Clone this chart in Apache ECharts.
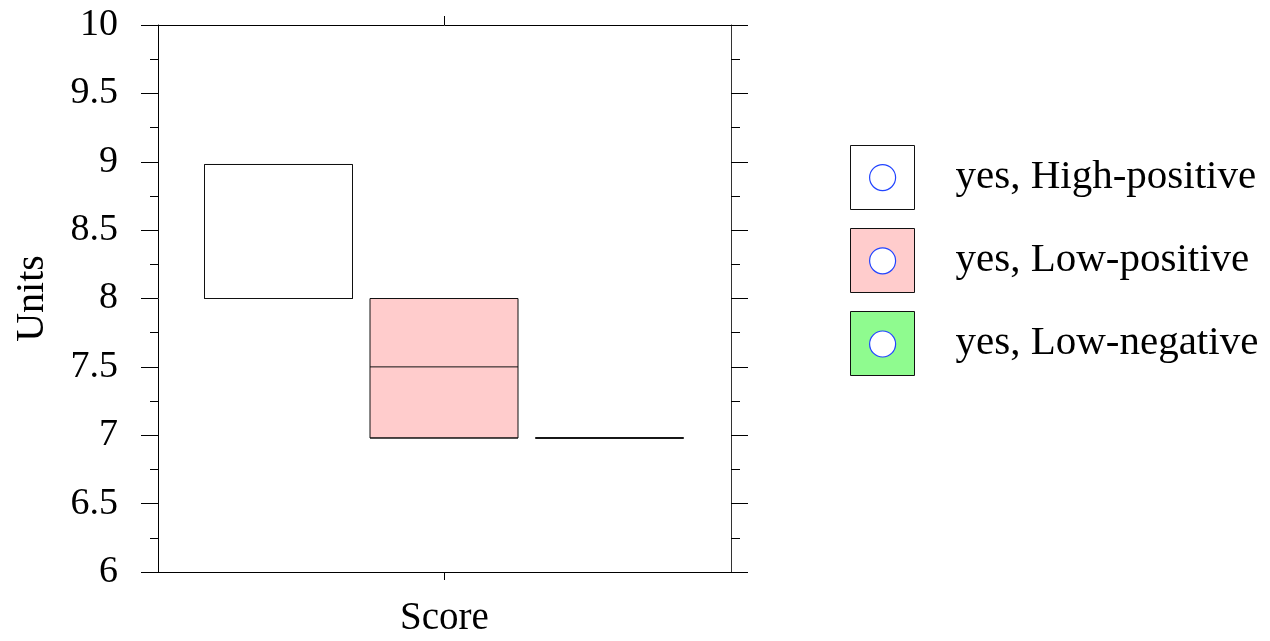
<!DOCTYPE html>
<html>
<head>
<meta charset="utf-8">
<script src="https://cdn.jsdelivr.net/npm/echarts@6/dist/echarts.min.js"></script>
<style>
  html, body { margin: 0; padding: 0; background: #fff; }
  #chart { width: 1270px; height: 641px; }
</style>
</head>
<body>
<div id="chart"></div>
<script>
// Axis categories and tick labels
const categories = ['Score'];
const yTicks = { min: 6, max: 10, step: 0.5 };

// Group names (legend entries)
const groupNames = ['yes, High-positive', 'yes, Low-positive', 'yes, Low-negative'];

// Box statistics per group: [min, Q1, median, Q3, max]
const highPositive = [8.0, 8.0, 8.0, 8.98, 8.98];
const lowPositive  = [6.98, 6.98, 7.5, 8.0, 8.0];
const lowNegative  = [6.98, 6.98, 6.98, 6.98, 6.98];

const groupValues = [highPositive, lowPositive, lowNegative];
const groupFill = ['#ffffff', '#ffcccc', '#8ffb8f'];

const FONT = '"Liberation Serif", "DejaVu Serif", serif';

// Frame of the plotting area
const plot = { left: 158, right: 731, top: 25, bottom: 572 };
// Boxes sit side by side in equal slots
const slotWidth = 165.5;
const slotStart = 195.75;

const grids = [{
  left: plot.left, top: plot.top,
  width: plot.right - plot.left, height: plot.bottom - plot.top,
  outerBoundsMode: 'none', containLabel: false
}];
groupNames.forEach((_, i) => {
  grids.push({
    left: slotStart + i * slotWidth, top: plot.top,
    width: slotWidth, height: plot.bottom - plot.top,
    outerBoundsMode: 'none', containLabel: false
  });
});

const xAxes = [
  {
    gridIndex: 0, type: 'category', data: categories, position: 'bottom',
    axisLine: { lineStyle: { color: '#000', width: 1 } },
    axisTick: { show: true, interval: 0, alignWithLabel: true, length: 8, lineStyle: { color: '#000' } },
    axisLabel: { show: true, interval: 0, color: 'rgba(0,0,0,0)', fontSize: 1 },
    name: categories[0], nameLocation: 'middle', nameGap: 27,
    nameTextStyle: { fontFamily: FONT, fontSize: 39, color: '#000' }
  },
  {
    gridIndex: 0, type: 'category', data: categories, position: 'top',
    axisLine: { lineStyle: { color: '#000', width: 1 } },
    axisTick: { show: true, interval: 0, alignWithLabel: true, length: 9, lineStyle: { color: '#000' } },
    axisLabel: { show: true, interval: 0, color: 'rgba(0,0,0,0)', fontSize: 1 }
  }
];
const yAxes = [
  {
    gridIndex: 0, type: 'value', position: 'left',
    min: yTicks.min, max: yTicks.max, interval: yTicks.step,
    axisLine: { show: true, lineStyle: { color: '#000', width: 1 } },
    axisTick: { show: true, length: 17, lineStyle: { color: '#000' } },
    minorTick: { show: true, splitNumber: 2, length: 8, lineStyle: { color: '#000' } },
    splitLine: { show: false },
    axisLabel: { margin: 40, fontFamily: FONT, fontSize: 38, color: '#000' },
    name: 'Units', nameLocation: 'middle', nameGap: 106,
    nameTextStyle: { fontFamily: FONT, fontSize: 40, color: '#000' }
  },
  {
    gridIndex: 0, type: 'value', position: 'right',
    min: yTicks.min, max: yTicks.max, interval: yTicks.step,
    axisLine: { show: true, lineStyle: { color: '#333', width: 1 } },
    axisTick: { show: true, length: 17, lineStyle: { color: '#000' } },
    minorTick: { show: true, splitNumber: 2, length: 9, lineStyle: { color: '#000' } },
    splitLine: { show: false },
    axisLabel: { show: false }
  }
];

const series = [];
groupNames.forEach((name, i) => {
  xAxes.push({
    gridIndex: i + 1, type: 'category', data: [name], show: false
  });
  yAxes.push({
    gridIndex: i + 1, type: 'value', min: yTicks.min, max: yTicks.max, show: false
  });
  series.push({
    name: name,
    type: 'boxplot',
    xAxisIndex: i + 2,
    yAxisIndex: i + 2,
    boxWidth: [148, 148],
    data: [groupValues[i]],
    itemStyle: { color: groupFill[i], borderColor: '#111', borderWidth: 1 },
    emphasis: { disabled: true }
  });
});

// Legend swatches: filled square with a small open circle on top
const squareItems = groupNames.map((name, i) => ({
  name: name,
  itemStyle: { color: groupFill[i], borderColor: '#111', borderWidth: 1 }
}));

const chart = echarts.init(document.getElementById('chart'), null, { renderer: 'canvas' });
chart.setOption({
  animation: false,
  backgroundColor: '#fff',
  grid: grids,
  xAxis: xAxes,
  yAxis: yAxes,
  legend: [
    {
      data: squareItems,
      orient: 'vertical',
      left: 850, top: 145, padding: 0,
      icon: 'rect',
      itemWidth: 64, itemHeight: 64, itemGap: 18,
      selectedMode: false,
      textStyle: { fontFamily: FONT, fontSize: 41, color: '#000', padding: [0, 0, 0, 36] }
    },
    {
      data: groupNames,
      orient: 'vertical',
      left: 869, top: 164, padding: 0,
      icon: 'circle',
      itemWidth: 26, itemHeight: 26, itemGap: 56,
      selectedMode: false,
      itemStyle: { color: '#ffffff', borderColor: '#2244ff', borderWidth: 1.2 },
      textStyle: { fontSize: 8, color: 'rgba(0,0,0,0)' }
    }
  ],
  series: series
});
</script>
</body>
</html>
